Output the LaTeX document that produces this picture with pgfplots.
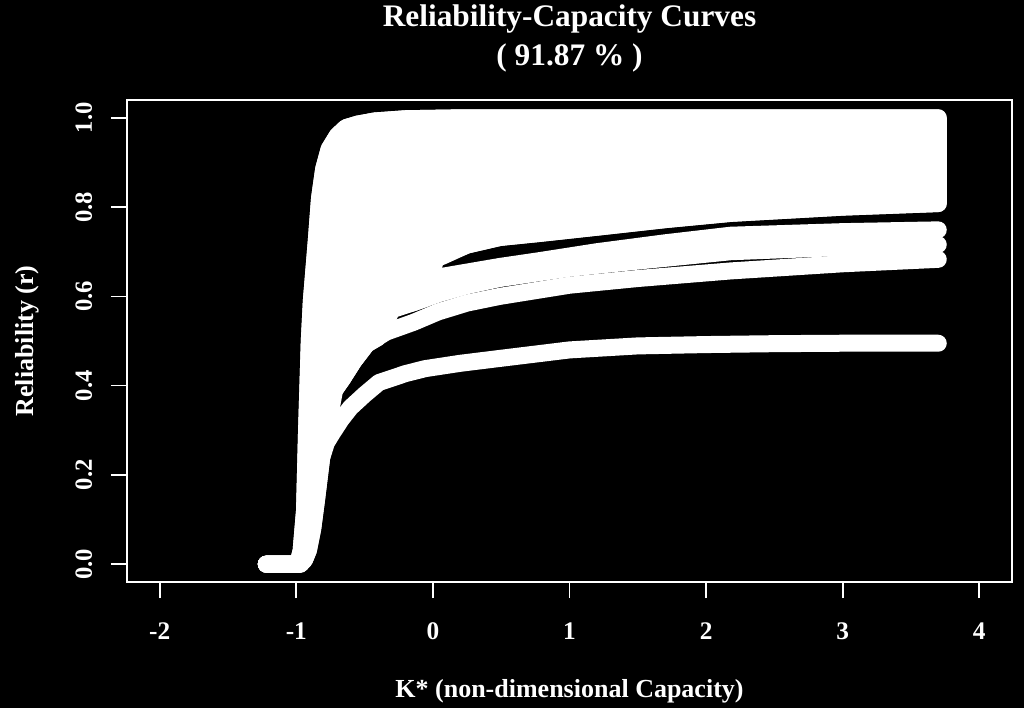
\documentclass[border=0pt]{standalone}
\usepackage{fontspec}
\setmainfont{Liberation Serif}
\usepackage{pgfplots}
\pgfplotsset{compat=1.18}
\begin{document}
\begin{tikzpicture}
\fill[black] (0,0) rectangle (768bp,531bp);
\begin{axis}[
  name=ax,
  at={(95.25bp,94.5bp)}, anchor=south west,
  scale only axis, width=663.75bp, height=361.5bp,
  xmin=-2.24, xmax=4.24, ymin=-0.04, ymax=1.04,
  axis background/.style={fill=black},
  axis line style={white, line width=1.3bp},
  every tick/.style={white, line width=1.3bp},
  tick align=outside, tick pos=left,
  major tick length=12bp,
  xtick={-2,-1,0,1,2,3,4},
  xticklabels={-2,-1,0,1,2,3,4},
  ytick={0,0.2,0.4,0.6,0.8,1},
  yticklabels={0.0,0.2,0.4,0.6,0.8,1.0},
  xticklabel style={text=white, font=\fontsize{19bp}{22bp}\selectfont\bfseries, anchor=base, inner sep=0pt, yshift=-30.75bp},
  yticklabel style={text=white, font=\fontsize{18.5bp}{22bp}\selectfont\bfseries, xshift=-14.25bp, rotate=90, anchor=base, inner sep=0pt},
]
% main white mass (polygon, stroked thick)
\addplot[white, fill=white, line width=12.75bp, line join=round, line cap=round] coordinates {
(-1.22,0) (-0.99,0) (-0.965,0.03) (-0.94,0.12) (-0.925,0.30) (-0.905,0.50) (-0.89,0.59) (-0.855,0.72) (-0.83,0.82) (-0.80,0.885) (-0.76,0.93) (-0.70,0.960) (-0.637,0.978) (-0.55,0.986) (-0.425,0.993) (-0.2,0.998) (0.2,1.0) (3.7,1.0)
(3.7,0.808) (3.0,0.800) (2.18,0.786) (1.7,0.772) (1.2,0.755) (0.78,0.741) (0.49,0.732) (0.25,0.715) (0.07,0.695) (0.02,0.685)
(-0.05,0.596) (-0.132,0.587) (-0.30,0.570) (-0.40,0.508) (-0.485,0.493) (-0.58,0.455) (-0.663,0.415) (-0.72,0.39) (-0.775,0.30)
(-0.815,0.238) (-0.853,0.143) (-0.88,0.08) (-0.912,0.031) (-0.94,0.01) (-0.97,0) (-1.22,0)
};
% curve 1 (lowest, ends near 0.5)
\addplot[white, line width=12.75bp, line join=round, line cap=round] coordinates {
(-1.22,0) (-0.97,0) (-0.94,0.01) (-0.912,0.031) (-0.88,0.08) (-0.853,0.143) (-0.815,0.238) (-0.78,0.272) (-0.736,0.294) (-0.67,0.325) (-0.603,0.351) (-0.5,0.38) (-0.395,0.407) (-0.2,0.427) (-0.058,0.438) (0.2,0.45) (0.491,0.461) (1.0,0.480) (1.5,0.489) (2.0,0.492) (2.5,0.494) (3.0,0.495) (3.7,0.495)
};
% curve 2
\addplot[white, line width=12.75bp, line join=round, line cap=round] coordinates {
(-1.22,0) (-0.98,0) (-0.95,0.02) (-0.925,0.08) (-0.90,0.16) (-0.87,0.24) (-0.83,0.31) (-0.78,0.36) (-0.72,0.39) (-0.663,0.415) (-0.58,0.455) (-0.485,0.493) (-0.341,0.52) (-0.14,0.542) (0.037,0.565) (0.25,0.585) (0.49,0.60) (1.0,0.625) (1.5,0.64) (2.18,0.657) (3.0,0.673) (3.7,0.683)
};
% curve 3
\addplot[white, line width=12.75bp, line join=round, line cap=round] coordinates {
(-1.22,0) (-0.98,0) (-0.95,0.03) (-0.92,0.12) (-0.89,0.25) (-0.85,0.36) (-0.78,0.44) (-0.68,0.50) (-0.55,0.54) (-0.40,0.562) (-0.29,0.573) (-0.132,0.587) (0.044,0.606) (0.25,0.624) (0.49,0.640) (1.0,0.663) (1.5,0.679) (2.18,0.700) (2.86,0.708) (3.7,0.716)
};
% curve 4
\addplot[white, line width=12.75bp, line join=round, line cap=round] coordinates {
(-1.22,0) (-0.98,0) (-0.95,0.03) (-0.92,0.14) (-0.89,0.30) (-0.85,0.42) (-0.78,0.50) (-0.68,0.55) (-0.55,0.575) (-0.40,0.59) (-0.29,0.60) (-0.1,0.625) (0.07,0.645) (0.49,0.667) (0.78,0.68) (1.2,0.70) (1.7,0.72) (2.18,0.737) (3.0,0.745) (3.7,0.749)
};
% curve 5
\addplot[white, line width=12.75bp, line join=round, line cap=round] coordinates {
(-1.22,0) (-0.98,0) (-0.95,0.04) (-0.92,0.18) (-0.89,0.38) (-0.85,0.50) (-0.78,0.57) (-0.68,0.60) (-0.50,0.62) (-0.3,0.64) (-0.1,0.67) (0.07,0.69) (0.25,0.715) (0.49,0.732) (0.78,0.741) (1.2,0.755) (1.7,0.772) (2.18,0.786) (3.0,0.800) (3.7,0.808)
};
% top curve
\addplot[white, line width=12.75bp, line join=round, line cap=round] coordinates {
(-1.22,0) (-0.99,0) (-0.965,0.03) (-0.94,0.12) (-0.925,0.30) (-0.905,0.50) (-0.89,0.59) (-0.855,0.72) (-0.83,0.82) (-0.80,0.885) (-0.76,0.93) (-0.70,0.960) (-0.637,0.978) (-0.55,0.986) (-0.425,0.993) (-0.2,0.998) (0.2,1.0) (3.7,1.0)
};
\end{axis}
\node[text=white, anchor=base, inner sep=0pt, font=\fontsize{23.5bp}{28bp}\selectfont\bfseries] at ([yshift=54.75bp]ax.north) {Reliability-Capacity Curves};
\node[text=white, anchor=base, inner sep=0pt, font=\fontsize{23.5bp}{28bp}\selectfont\bfseries] at ([yshift=25.5bp]ax.north) {( 91.87 \% )};
\node[text=white, anchor=base, inner sep=0pt, font=\fontsize{19.5bp}{23bp}\selectfont\bfseries] at ([yshift=-86.25bp]ax.south) {K* (non-dimensional Capacity)};
\node[text=white, anchor=base, inner sep=0pt, rotate=90, font=\fontsize{19.5bp}{23bp}\selectfont\bfseries] at ([xshift=-70.5bp]ax.west) {Reliability (r)};
\end{tikzpicture}
\end{document}
